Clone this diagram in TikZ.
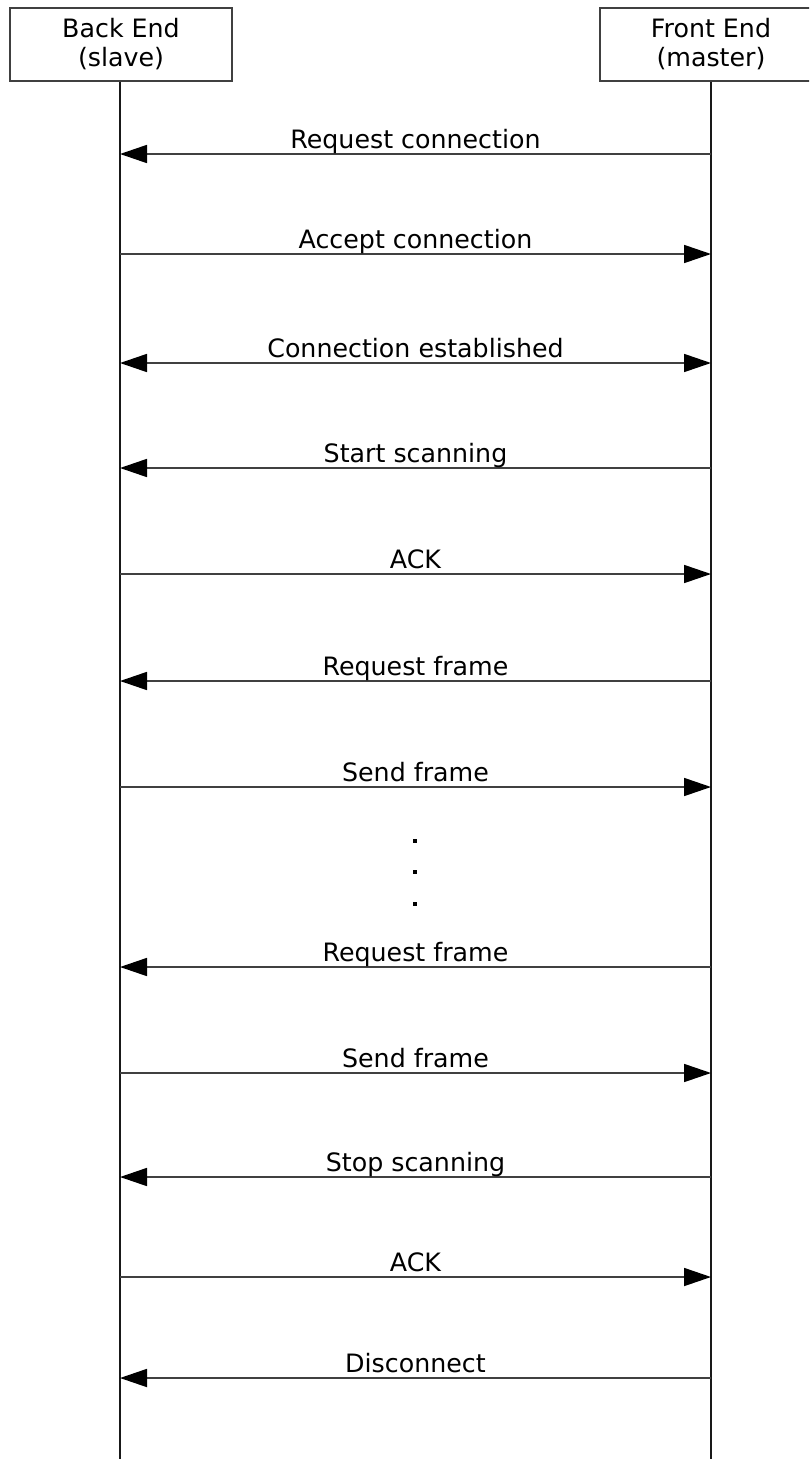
\documentclass[tikz,border=0pt]{standalone}
\usepackage{fontspec}
\setmainfont{DejaVu Sans}
\usetikzlibrary{arrows.meta}

\tikzset{
  actor/.style={draw=black!75, line width=1.3pt, fill=white, align=center,
    minimum width=222pt, minimum height=73pt, inner sep=0pt,
    font=\fontsize{25.3}{29}\selectfont},
  lifeline/.style={draw=black!90, line width=2pt},
  msg/.style={draw=black!75, line width=1.7pt},
  arrowhead/.tip={Triangle[length=27pt,width=18pt,color=black]},
  tip/.style={-arrowhead},
  bothtips/.style={arrowhead-arrowhead},
  msglabel/.style={anchor=base, inner sep=0pt, text=black,
    font=\fontsize{25.3}{29}\selectfont},
  dotmark/.style={fill=black, minimum size=4.5pt, inner sep=0pt, draw=none}
}

\begin{document}
\begin{tikzpicture}[x=1pt,y=-1pt]
\useasboundingbox (0,0) rectangle (809,1459);
\begin{scope}
\clip (0,0) rectangle (809,1459);

% participants
\node[actor] (back)  at (121,44.5) {Back End\\(slave)};
\node[actor] (front) at (711,44.5) {Front End\\(master)};

% ends of the lifelines
\coordinate (backend)  at (120,1460);
\coordinate (frontend) at (711,1460);
\draw[lifeline] (back.south -| backend) -- (backend);
\draw[lifeline] (front.south -| frontend) -- (frontend);

% message rows: points on both lifelines
\foreach \n/\y in {1/154,2/254,3/363,4/468,5/574,6/681,7/787,
                   8/967,9/1073,10/1177,11/1277,12/1378}{
  \coordinate (b\n) at (120,\y);
  \coordinate (f\n) at (711,\y);
}

% messages
\draw[msg,tip]      (f1)  -- (b1)  node[msglabel, pos=0.5, yshift=6pt] (m1)  {Request connection};
\draw[msg,tip]      (b2)  -- (f2)  node[msglabel, pos=0.5, yshift=6pt] (m2)  {Accept connection};
\draw[msg,bothtips] (b3)  -- (f3)  node[msglabel, pos=0.5, yshift=6pt] (m3)  {Connection established};
\draw[msg,tip]      (f4)  -- (b4)  node[msglabel, pos=0.5, yshift=6pt] (m4)  {Start scanning};
\draw[msg,tip]      (b5)  -- (f5)  node[msglabel, pos=0.5, yshift=6pt] (m5)  {ACK};
\draw[msg,tip]      (f6)  -- (b6)  node[msglabel, pos=0.5, yshift=6pt] (m6)  {Request frame};
\draw[msg,tip]      (b7)  -- (f7)  node[msglabel, pos=0.5, yshift=6pt] (m7)  {Send frame};
\draw[msg,tip]      (f8)  -- (b8)  node[msglabel, pos=0.5, yshift=6pt] (m8)  {Request frame};
\draw[msg,tip]      (b9)  -- (f9)  node[msglabel, pos=0.5, yshift=6pt] (m9)  {Send frame};
\draw[msg,tip]      (f10) -- (b10) node[msglabel, pos=0.5, yshift=6pt] (m10) {Stop scanning};
\draw[msg,tip]      (b11) -- (f11) node[msglabel, pos=0.5, yshift=6pt] (m11) {ACK};
\draw[msg,tip]      (f12) -- (b12) node[msglabel, pos=0.5, yshift=6pt] (m12) {Disconnect};

% ellipsis between the repeated frame exchanges
\node[dotmark] (d1) at (415,841) {};
\node[dotmark] (d2) at (415,872) {};
\node[dotmark] (d3) at (415,904) {};
\end{scope}
\end{tikzpicture}
\end{document}
